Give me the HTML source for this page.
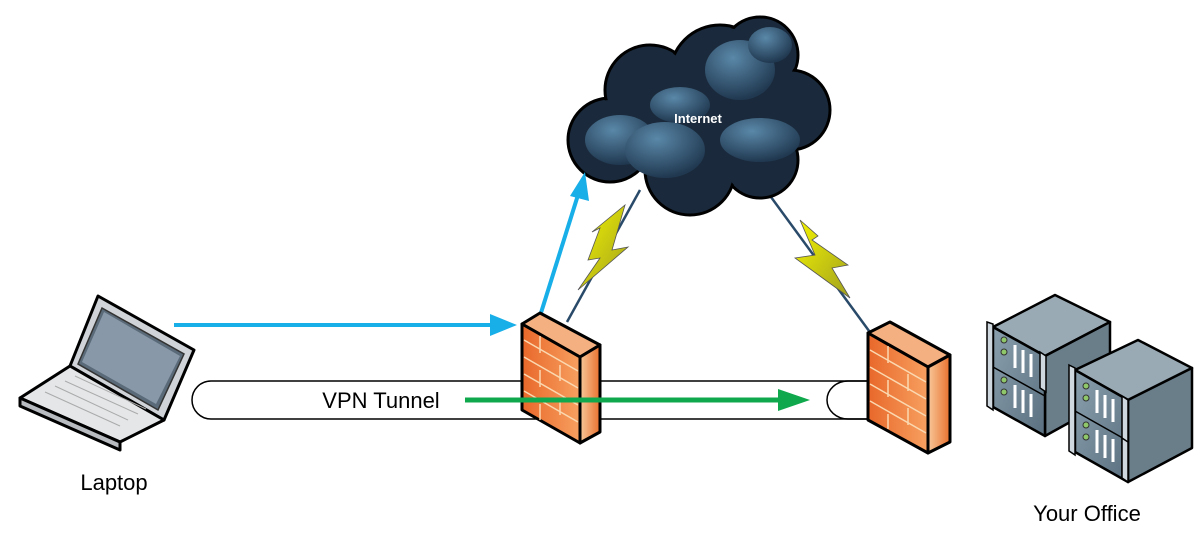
<!DOCTYPE html>
<html><head><meta charset="utf-8"><style>
html,body{margin:0;padding:0;background:#fff}
svg{display:block}
text{font-family:"Liberation Sans",sans-serif}
</style></head><body>
<svg width="1201" height="537" viewBox="0 0 1201 537" xmlns="http://www.w3.org/2000/svg">
<defs>
<linearGradient id="fw" x1="0" y1="0" x2="1" y2="0"><stop offset="0" stop-color="#e8682a"/><stop offset="1" stop-color="#f7a060"/></linearGradient>
<linearGradient id="fws" x1="0" y1="0" x2="1" y2="0"><stop offset="0" stop-color="#f8c89a"/><stop offset="1" stop-color="#e8702e"/></linearGradient>
<linearGradient id="bolt" x1="0" y1="0" x2="1" y2="1"><stop offset="0" stop-color="#f5f500"/><stop offset="1" stop-color="#a0a020"/></linearGradient>
<radialGradient id="puff" cx="0.4" cy="0.3" r="0.7"><stop offset="0" stop-color="#5a88a8"/><stop offset="1" stop-color="#203850"/></radialGradient>
<linearGradient id="srv" x1="0" y1="0" x2="1" y2="1"><stop offset="0" stop-color="#8aa0ae"/><stop offset="1" stop-color="#5a7080"/></linearGradient>
</defs>

<!-- tunnel -->
<path d="M211,381 L868,381 M211,419 L868,419 M211,381 A19,19 0 0 0 211,419" fill="none" stroke="#000" stroke-width="1.5"/>
<path d="M868,381 L848,381 A21,19 0 0 0 848,419 L868,419" fill="none" stroke="#000" stroke-width="1.5"/>

<!-- connecting lines -->
<line x1="567" y1="322" x2="640" y2="190" stroke="#2a4a6a" stroke-width="2.5"/>
<line x1="760" y1="182" x2="872" y2="335" stroke="#2a4a6a" stroke-width="2.5"/>
<!-- bolts -->
<polygon points="625,205 612,250 628,247 578,290 600,258 588,260 600,228 592,232" fill="url(#bolt)" stroke="#555" stroke-width="0.8"/>
<polygon points="800,220 815,255 795,258 850,298 832,268 848,265 812,240 818,236" fill="url(#bolt)" stroke="#555" stroke-width="0.8"/>

<!-- cloud -->
<g stroke="#000" stroke-width="3">
<circle cx="610" cy="140" r="42" fill="#1a2a3c"/>
<circle cx="650" cy="90" r="45" fill="#1a2a3c"/>
<circle cx="720" cy="75" r="50" fill="#1a2a3c"/>
<circle cx="760" cy="55" r="38" fill="#1a2a3c"/>
<circle cx="790" cy="110" r="40" fill="#1a2a3c"/>
<circle cx="760" cy="160" r="38" fill="#1a2a3c"/>
<circle cx="690" cy="170" r="45" fill="#1a2a3c"/>
</g>
<g stroke="none">
<circle cx="610" cy="140" r="40" fill="#1a2a3c"/>
<circle cx="650" cy="90" r="43" fill="#1a2a3c"/>
<circle cx="720" cy="75" r="48" fill="#1a2a3c"/>
<circle cx="760" cy="55" r="36" fill="#1a2a3c"/>
<circle cx="790" cy="110" r="38" fill="#1a2a3c"/>
<circle cx="760" cy="160" r="36" fill="#1a2a3c"/>
<circle cx="690" cy="170" r="43" fill="#1a2a3c"/>
<circle cx="700" cy="130" r="60" fill="#1a2a3c"/>
<ellipse cx="620" cy="140" rx="35" ry="25" fill="url(#puff)"/>
<ellipse cx="665" cy="150" rx="40" ry="28" fill="url(#puff)"/>
<ellipse cx="760" cy="140" rx="40" ry="22" fill="url(#puff)"/>
<ellipse cx="740" cy="70" rx="35" ry="30" fill="url(#puff)"/>
<ellipse cx="770" cy="45" rx="22" ry="18" fill="url(#puff)"/>
<ellipse cx="680" cy="105" rx="30" ry="18" fill="url(#puff)"/>
</g>
<text x="698" y="123" font-size="13" font-weight="bold" fill="#fff" text-anchor="middle">Internet</text>

<!-- blue arrows -->
<line x1="174" y1="325" x2="495" y2="325" stroke="#18aee8" stroke-width="4"/>
<polygon points="517,325 490,314 490,336" fill="#18aee8"/>
<line x1="540" y1="316" x2="578" y2="195" stroke="#18aee8" stroke-width="4"/>
<polygon points="585,172 570,196 589,201" fill="#18aee8"/>

<!-- firewall 1 -->
<g stroke="#000" stroke-width="3" stroke-linejoin="round">
<polygon points="522,324 540,313 600,345 580,357" fill="#f4b080"/>
<polygon points="580,357 600,345 600,432 580,443" fill="url(#fws)"/>
<polygon points="522,324 580,357 580,443 522,410" fill="url(#fw)"/>
</g>
<g stroke="#fbd8b0" stroke-width="1.5" fill="none">
<path d="M524,340 L578,371 M524,357 L578,388 M524,374 L578,405 M524,391 L578,422"/>
<path d="M540,336 L540,353 M560,365 L560,381 M540,370 L540,387 M560,399 L560,415 M540,404 L540,420"/>
</g>
<!-- firewall 2 -->
<g stroke="#000" stroke-width="3" stroke-linejoin="round">
<polygon points="868,333 890,322 950,355 928,367" fill="#f4b080"/>
<polygon points="928,367 950,355 950,442 928,453" fill="url(#fws)"/>
<polygon points="868,333 928,367 928,453 868,420" fill="url(#fw)"/>
</g>
<g stroke="#fbd8b0" stroke-width="1.5" fill="none">
<path d="M870,350 L926,382 M870,367 L926,399 M870,384 L926,416 M870,401 L926,433"/>
<path d="M888,346 L888,363 M908,374 L908,391 M888,380 L888,397 M908,408 L908,425 M888,414 L888,429"/>
</g>

<!-- green arrow -->
<line x1="465" y1="400" x2="782" y2="400" stroke="#10a84c" stroke-width="5"/>
<polygon points="810,400 778,389 778,411" fill="#10a84c"/>

<text x="381" y="408" font-size="22" text-anchor="middle" fill="#000">VPN Tunnel</text>

<!-- laptop -->
<g stroke="#000" stroke-width="3" stroke-linejoin="round">
<polygon points="98,296 194,350 164,420 70,366" fill="#d0d4d8"/>
<polygon points="70,366 164,420 120,442 20,398" fill="#e4e6e8"/>
<polygon points="20,398 120,442 120,450 20,406" fill="#b8bcc0"/>
</g>
<polygon points="102,308 184,354 158,410 78,364" fill="#5a6a78" stroke="#333" stroke-width="1.5"/>
<polygon points="104,312 180,356 156,404 82,362" fill="#8898a8"/>
<g stroke="#aaa" stroke-width="1" fill="none">
<path d="M45,392 L120,426 M55,386 L128,420 M65,381 L138,414 M75,376 L146,409"/>
</g>
<text x="114" y="490" font-size="22" text-anchor="middle" fill="#000">Laptop</text>

<!-- servers -->
<g stroke="#000" stroke-width="2.5" stroke-linejoin="round">
<polygon points="993,327 1055,295 1110,322 1045,356" fill="#9aaab4"/>
<polygon points="1045,356 1110,322 1110,400 1045,436" fill="#6a7e8a"/>
<polygon points="993,327 1045,356 1045,436 993,407" fill="url(#srv)"/>
<polygon points="1075,370 1138,340 1192,368 1128,400" fill="#9aaab4"/>
<polygon points="1128,400 1192,368 1192,448 1128,482" fill="#6a7e8a"/>
<polygon points="1075,370 1128,400 1128,482 1075,452" fill="url(#srv)"/>
</g>
<g stroke="#000" stroke-width="1.5" fill="#cfd8de">
<path d="M993,367 L1045,396" fill="none"/>
<path d="M1075,411 L1128,441" fill="none"/>
<polygon points="987,322 993,324 993,410 987,406"/>
<polygon points="1040,352 1046,356 1046,392 1040,388"/>
<polygon points="1069,365 1075,368 1075,455 1069,451"/>
<polygon points="1122,396 1128,400 1128,480 1122,476"/>
<polygon points="1122,438 1128,442 1128,482 1122,478"/>
</g>
<g fill="#8ec86a" stroke="#333" stroke-width="1">
<circle cx="1004" cy="340" r="3"/><circle cx="1004" cy="352" r="3"/>
<circle cx="1004" cy="380" r="3"/><circle cx="1004" cy="392" r="3"/>
<circle cx="1086" cy="386" r="3"/><circle cx="1086" cy="398" r="3"/>
<circle cx="1086" cy="425" r="3"/><circle cx="1086" cy="437" r="3"/>
</g>
<g stroke="#fff" stroke-width="3">
<path d="M1015,345 L1015,368 M1023,350 L1023,373 M1031,354 L1031,377"/>
<path d="M1015,385 L1015,408 M1023,390 L1023,413 M1031,394 L1031,417"/>
<path d="M1097,390 L1097,413 M1105,395 L1105,418 M1113,399 L1113,422"/>
<path d="M1097,430 L1097,453 M1105,435 L1105,458 M1113,439 L1113,462"/>
</g>
<text x="1087" y="521" font-size="22" text-anchor="middle" fill="#000">Your Office</text>
</svg>
</body></html>
